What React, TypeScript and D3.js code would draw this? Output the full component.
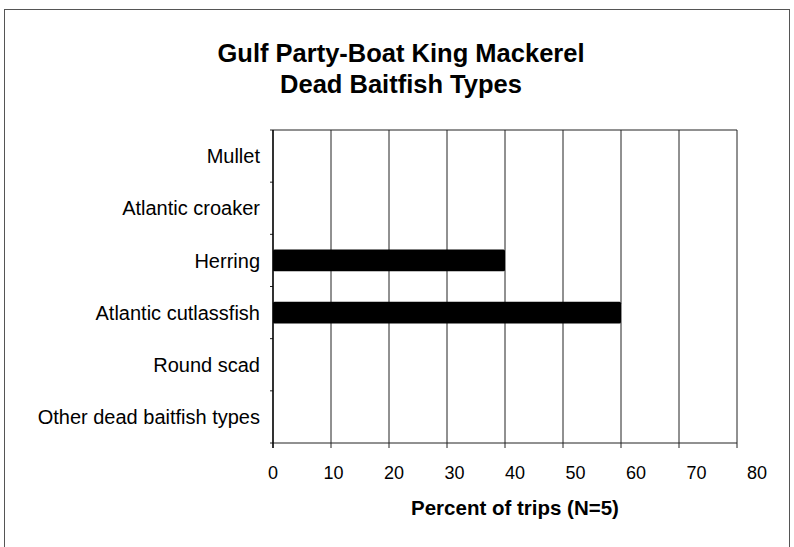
import React, { useEffect, useRef } from "react";
import * as d3 from "d3";

const categories = [
  "Mullet",
  "Atlantic croaker",
  "Herring",
  "Atlantic cutlassfish",
  "Round scad",
  "Other dead baitfish types",
];
const values = [0, 0, 40, 60, 0, 0];
const xTicks = [0, 10, 20, 30, 40, 50, 60, 70, 80];
const titleLines = ["Gulf Party-Boat King Mackerel", "Dead Baitfish Types"];
const xTitle = "Percent of trips (N=5)";

const W = 794;
const H = 547;

export default function App() {
  const ref = useRef<SVGSVGElement>(null);

  useEffect(() => {
    const svg = d3.select(ref.current);
    svg.selectAll("*").remove();

    const left = 273;
    const right = 737;
    const top = 130;
    const bottom = 443;

    const x = d3.scaleLinear().domain([0, 80]).range([left, right]);
    const xLab = d3.scaleLinear().domain([0, 80]).range([left, left + 484]);
    const y = d3.scaleBand().domain(categories).range([top, bottom]).paddingInner(0.58).paddingOuter(0.29);
    const yb = d3.scaleBand().domain(categories).range([top, bottom]);

    svg.append("rect").attr("width", W).attr("height", H).attr("fill", "#fff");

    // outer frame
    svg.append("rect")
      .attr("x", 4.5).attr("y", 9.5).attr("width", 785).attr("height", 560)
      .attr("fill", "none").attr("stroke", "#555").attr("stroke-width", 1);

    const font = "'Liberation Sans', Arial, sans-serif";

    svg.append("g").selectAll("text").data(titleLines).join("text")
      .attr("x", 401).attr("y", (d, i) => 62 + i * 31)
      .attr("text-anchor", "middle")
      .attr("font-family", font).attr("font-weight", "bold").attr("font-size", 25.5)
      .text(d => d);

    // gridlines
    svg.append("g").selectAll("line").data(xTicks).join("line")
      .attr("x1", d => x(d)).attr("x2", d => x(d))
      .attr("y1", top).attr("y2", bottom + 5)
      .attr("stroke", "#222").attr("stroke-width", 1);

    // frame top and bottom
    svg.append("line").attr("x1", left).attr("x2", right).attr("y1", top).attr("y2", top)
      .attr("stroke", "#222");
    svg.append("line").attr("x1", left).attr("x2", right).attr("y1", bottom).attr("y2", bottom)
      .attr("stroke", "#222");

    // y ticks
    const yTickPos = categories.map(c => yb(c) as number).concat([bottom]);
    svg.append("g").selectAll("line").data(yTickPos).join("line")
      .attr("x1", left - 3).attr("x2", left).attr("y1", d => d).attr("y2", d => d)
      .attr("stroke", "#222");

    // bars
    svg.append("g").selectAll("rect").data(categories).join("rect")
      .attr("x", x(0))
      .attr("y", d => y(d) as number)
      .attr("width", (d, i) => x(values[i]) - x(0))
      .attr("height", y.bandwidth())
      .attr("rx", 1.5)
      .attr("fill", "#000");

    // left axis line
    svg.append("line").attr("x1", left).attr("x2", left).attr("y1", top).attr("y2", bottom + 5)
      .attr("stroke", "#000").attr("stroke-width", 1.3);

    // category labels
    svg.append("g").selectAll("text").data(categories).join("text")
      .attr("x", 260)
      .attr("y", d => (yb(d) as number) + yb.bandwidth() / 2)
      .attr("dy", "0.36em")
      .attr("text-anchor", "end")
      .attr("font-family", font).attr("font-size", 20)
      .text(d => d);

    // x tick labels
    svg.append("g").selectAll("text").data(xTicks).join("text")
      .attr("x", d => xLab(d))
      .attr("y", 479)
      .attr("text-anchor", "middle")
      .attr("font-family", font).attr("font-size", 18)
      .text(d => String(d));

    svg.append("text")
      .attr("x", (xLab(0) + xLab(80)) / 2).attr("y", 515)
      .attr("text-anchor", "middle")
      .attr("font-family", font).attr("font-weight", "bold").attr("font-size", 20.5)
      .text(xTitle);
  }, []);

  return (
    <div style={{ position: "absolute", left: 0, top: 0 }}>
      <svg ref={ref} width={W} height={H} style={{ display: "block" }} />
    </div>
  );
}
